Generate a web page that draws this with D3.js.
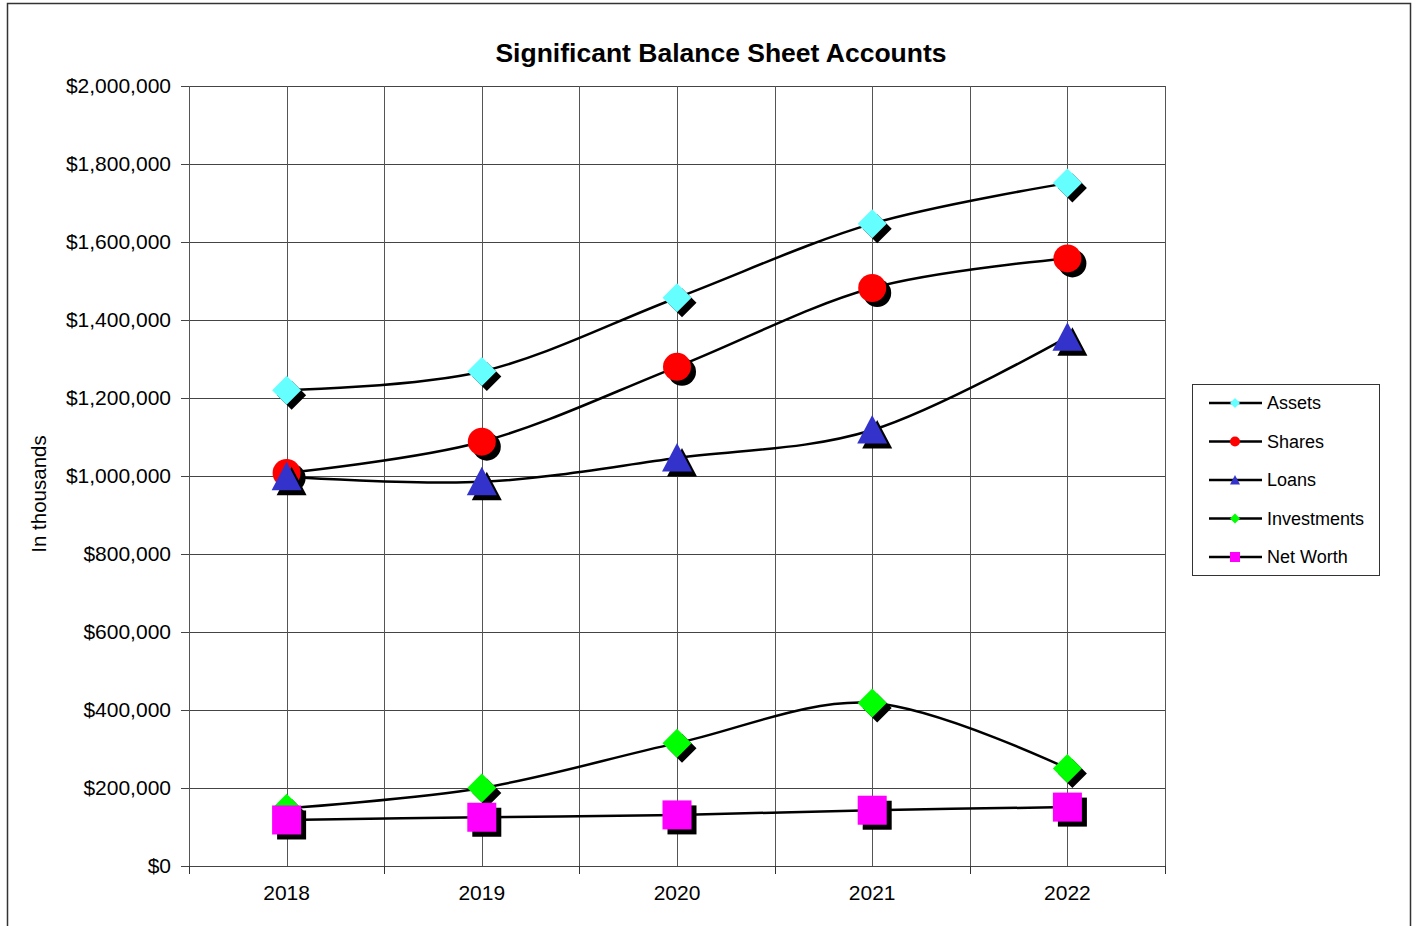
<!DOCTYPE html>
<html>
<head>
<meta charset="utf-8">
<script src="https://cdn.jsdelivr.net/npm/d3@7"></script>
<style>
  body { margin: 0; background: #fff; }
  svg { font-family: "Liberation Sans", Arial, sans-serif; }
</style>
</head>
<body>
<svg id="chart" width="1416" height="926"></svg>
<script>
const years = ["2018", "2019", "2020", "2021", "2022"];
const assets = [1220000, 1268000, 1457000, 1647000, 1751000];
const shares = [1008000, 1088000, 1280000, 1482000, 1558000];
const loans = [998000, 985000, 1046000, 1118000, 1356000];
const investments = [148000, 200000, 315000, 418000, 250000];
const netWorth = [118000, 125000, 131000, 143000, 151000];
const yTicks = [0, 200000, 400000, 600000, 800000, 1000000, 1200000, 1400000, 1600000, 1800000, 2000000];

const series = [
  { name: "Assets", values: assets, color: "#66ffff", shape: "diamond", size: 14.5 },
  { name: "Shares", values: shares, color: "#ff0000", shape: "circle", size: 14 },
  { name: "Loans", values: loans, color: "#3333cc", shape: "triangle", size: 15 },
  { name: "Investments", values: investments, color: "#00ff00", shape: "diamond", size: 14.5 },
  { name: "Net Worth", values: netWorth, color: "#ff00ff", shape: "square", size: 14.5 }
];

const svg = d3.select("#chart");
const plot = { left: 189, right: 1165, top: 86, bottom: 866 };

// outer frame
svg.append("rect")
  .attr("x", 7.5).attr("y", 3.5)
  .attr("width", 1403).attr("height", 940)
  .attr("fill", "none").attr("stroke", "#333").attr("stroke-width", 1.5);

const x = d3.scaleBand().domain(years).range([plot.left, plot.right]);
const y = d3.scaleLinear().domain([0, 2000000]).range([plot.bottom, plot.top]);
const cx = d => x(d) + x.bandwidth() / 2;

// grid
const grid = svg.append("g");
grid.selectAll(".hg").data(yTicks).join("line")
  .attr("x1", plot.left - 8).attr("x2", plot.right)
  .attr("y1", d => y(d) + 0.5).attr("y2", d => y(d) + 0.5)
  .attr("stroke", "#444").attr("stroke-width", 1);

const vLines = years.map(cx).concat(years.map(d => x(d))).concat([plot.right]);
grid.selectAll(".vg").data(vLines).join("line")
  .attr("x1", d => Math.round(d) + 0.5).attr("x2", d => Math.round(d) + 0.5)
  .attr("y1", plot.top).attr("y2", plot.bottom)
  .attr("stroke", "#555").attr("stroke-width", 1);

// bottom tick marks at category boundaries
grid.selectAll(".bt").data(years.map(d => x(d)).concat([plot.right])).join("line")
  .attr("x1", d => Math.round(d) + 0.5).attr("x2", d => Math.round(d) + 0.5)
  .attr("y1", plot.bottom).attr("y2", plot.bottom + 8)
  .attr("stroke", "#333");

// axis labels
svg.append("g").selectAll("text").data(yTicks).join("text")
  .attr("x", 171).attr("y", d => y(d) + 7)
  .attr("text-anchor", "end")
  .attr("font-size", 21)
  .text(d => "$" + d3.format(",")(d));

svg.append("g").selectAll("text").data(years).join("text")
  .attr("x", cx).attr("y", 900)
  .attr("text-anchor", "middle")
  .attr("font-size", 21)
  .text(d => d);

svg.append("text")
  .attr("transform", "translate(46,494) rotate(-90)")
  .attr("text-anchor", "middle")
  .attr("font-size", 20.5)
  .text("In thousands");

svg.append("text")
  .attr("x", 721).attr("y", 62)
  .attr("text-anchor", "middle")
  .attr("font-size", 26.5).attr("font-weight", "bold")
  .text("Significant Balance Sheet Accounts");

// marker drawing
function drawMarker(g, shape, size, px, py, fill) {
  if (shape === "circle") {
    g.append("circle").attr("cx", px).attr("cy", py).attr("r", size).attr("fill", fill);
  } else if (shape === "square") {
    g.append("rect").attr("x", px - size).attr("y", py - size)
      .attr("width", size * 2).attr("height", size * 2).attr("fill", fill);
  } else if (shape === "diamond") {
    g.append("path")
      .attr("d", `M${px},${py - size}L${px + size},${py}L${px},${py + size}L${px - size},${py}Z`)
      .attr("fill", fill);
  } else if (shape === "triangle") {
    g.append("path")
      .attr("d", `M${px},${py - size}L${px + size},${py + size * 0.9}L${px - size},${py + size * 0.9}Z`)
      .attr("fill", fill);
  }
}

const line = d3.line().x((d, i) => cx(years[i])).y(d => y(d)).curve(d3.curveCardinal.tension(0));

const linesG = svg.append("g");
series.forEach(s => {
  linesG.append("path")
    .attr("d", line(s.values))
    .attr("fill", "none").attr("stroke", "#000").attr("stroke-width", 2.5);
});

const marksG = svg.append("g");
series.forEach(s => {
  s.values.forEach((v, i) => {
    drawMarker(marksG, s.shape, s.size, cx(years[i]) + 5, y(v) + 5, "#000");
    drawMarker(marksG, s.shape, s.size, cx(years[i]), y(v), s.color);
  });
});

// legend
const lg = svg.append("g");
lg.append("rect")
  .attr("x", 1192.5).attr("y", 384.5).attr("width", 187).attr("height", 191)
  .attr("fill", "#fff").attr("stroke", "#333").attr("stroke-width", 1);
const legendY = d3.scalePoint().domain(series.map(s => s.name)).range([403, 557]);
series.forEach(s => {
  const ly = legendY(s.name);
  lg.append("line").attr("x1", 1209).attr("x2", 1262).attr("y1", ly).attr("y2", ly)
    .attr("stroke", "#000").attr("stroke-width", 2.5);
  drawMarker(lg, s.shape, s.shape === "square" ? 5 : 5, 1235, ly, s.color);
  lg.append("text").attr("x", 1267).attr("y", ly + 6)
    .attr("font-size", 18).text(s.name);
});
</script>
</body>
</html>
